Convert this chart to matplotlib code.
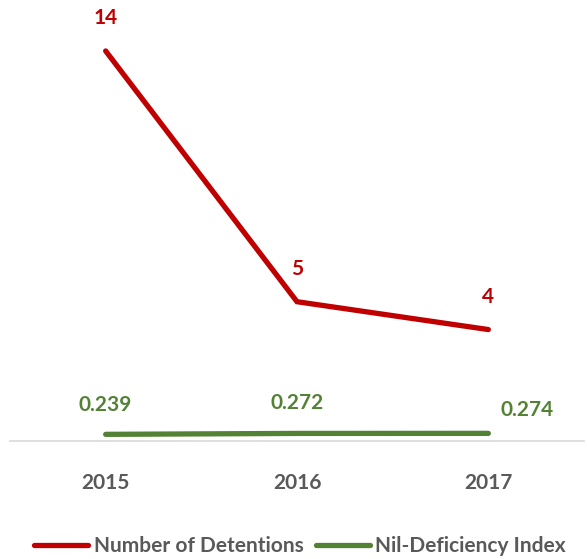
import matplotlib
matplotlib.use("Agg")
import matplotlib.pyplot as plt

plt.rcParams['font.family'] = ['Lato', 'DejaVu Sans']

years = ['2015', '2016', '2017']
detentions = [14, 5, 4]
nil_index = [0.239, 0.272, 0.274]
det_labels = ['14', '5', '4']
nil_labels = ['0.239', '0.272', '0.274']

red = '#C00000'
green = '#548235'
grey = '#595959'

W, H = 587, 559
PX = 27.86  # pixels per unit on the y axis
fig = plt.figure(figsize=(W / 100, H / 100), dpi=100)
# axes from x=10..584 px, y=20..441 px
ax = fig.add_axes([10 / W, (H - 441) / H, 574 / W, 421 / H])
ax.set_xlim(-0.5, 2.5)
ax.set_ylim(0, 421 / PX)

x = list(range(len(years)))
ax.plot(x, detentions, color=red, lw=3.8, solid_capstyle='round',
        solid_joinstyle='miter', label='Number of Detentions', clip_on=False)
ax.plot(x, nil_index, color=green, lw=3.8, solid_capstyle='round',
        label='Nil-Deficiency Index', clip_on=False)

for xi, v, s in zip(x, detentions, det_labels):
    ax.annotate(s, (xi, v), xytext=(0, 23.5), textcoords='offset points',
                ha='center', va='center', color=red, fontsize=15,
                fontweight='bold', annotation_clip=False)

nil_off = [(0, 21), (0, 22), (28, 17)]
for xi, v, s, off in zip(x, nil_index, nil_labels, nil_off):
    ax.annotate(s, (xi, v), xytext=off, textcoords='offset points',
                ha='center', va='center', color=green, fontsize=15,
                fontweight='bold', annotation_clip=False)

for sp in ['top', 'right', 'left']:
    ax.spines[sp].set_visible(False)
ax.spines['bottom'].set_color('#D9D9D9')
ax.spines['bottom'].set_linewidth(1.2)
ax.set_yticks([])
ax.set_xticks(x)
ax.set_xticklabels(years, fontsize=15, fontweight='bold', color=grey)
ax.tick_params(axis='x', length=0, pad=23)

leg = fig.legend(loc='center', bbox_to_anchor=(300 / W, (H - 546) / H),
                 ncol=2, frameon=False, handlelength=2.6, handletextpad=0.25,
                 columnspacing=0.6, prop={'size': 15, 'weight': 'bold'})
for t in leg.get_texts():
    t.set_color(grey)

fig.savefig('out.png', dpi=100)
